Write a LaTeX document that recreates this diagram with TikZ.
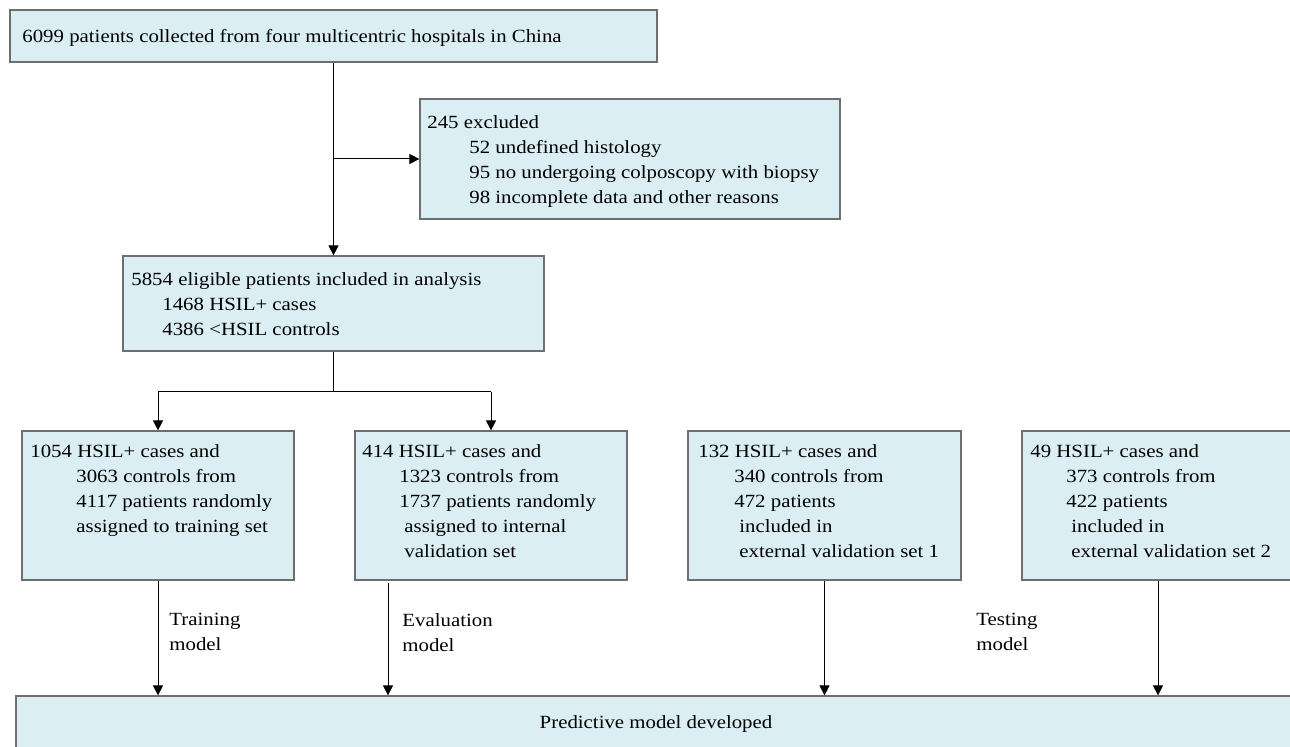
\documentclass[tikz,border=0pt]{standalone}
\usepackage{fontspec}
\setmainfont{Liberation Serif}[FakeStretch=1.12]
\usetikzlibrary{arrows.meta}
\definecolor{boxfill}{HTML}{DAEEF3}
\definecolor{boxline}{HTML}{6E6E6E}
\begin{document}
\begin{tikzpicture}[x=0.5pt,y=-0.5pt,
    box/.style={draw=boxline,fill=boxfill,line width=0.6pt,inner sep=0pt},
    txt/.style={anchor=north west,inner sep=0pt,align=left,font=\fontsize{9.3}{12.5}\selectfont},
    arr/.style={-{Triangle[length=5pt,width=5pt]},line width=0.5pt},
    ln/.style={line width=0.5pt}]
    \useasboundingbox (0,0) rectangle (1290,747);
    \clip (0,0) rectangle (1290,747);

    \node[box,minimum width=323.5pt,minimum height=26pt] (B0) at (333.5,36) {}; % all patients
    \node[box,minimum width=210pt,minimum height=60pt] (B1) at (630,159) {}; % excluded
    \node[box,minimum width=210.5pt,minimum height=47.5pt] (B2) at (333.5,303.5) {}; % eligible
    \node[box,minimum width=136pt,minimum height=74.5pt] (S1) at (158,505.5) {}; % training
    \node[box,minimum width=136pt,minimum height=74.5pt] (S2) at (491,505.5) {}; % internal
    \node[box,minimum width=136.5pt,minimum height=74.5pt] (S3) at (824.5,505.5) {}; % external 1
    \node[box,minimum width=136pt,minimum height=74.5pt] (S4) at (1158,505.5) {}; % external 2
    \node[box,minimum width=640pt,minimum height=27pt] (M) at (656,723) {}; % model

    \node[txt] (T0) at (22,29) {6099 patients collected from four multicentric hospitals in China};
    \node[txt] (T1) at (427,115) {245 excluded\\
        \hspace*{21pt}52 undefined histology\\
        \hspace*{21pt}95 no undergoing colposcopy with biopsy\\
        \hspace*{21pt}98 incomplete data and other reasons};
    \node[txt] (T2) at (131,272) {5854 eligible patients included in analysis\\
        \hspace*{15.5pt}1468 HSIL+ cases\\
        \hspace*{15.5pt}4386 <HSIL controls};
    \node[txt] (U1) at (30,444) {1054 HSIL+ cases and\\
        \hspace*{23pt}3063 controls from\\
        \hspace*{23pt}4117 patients randomly\\
        \hspace*{23pt}assigned to training set};
    \node[txt] (U2) at (362,444) {414 HSIL+ cases and\\
        \hspace*{18.5pt}1323 controls from\\
        \hspace*{18.5pt}1737 patients randomly\\
        \hspace*{21pt}assigned to internal\\
        \hspace*{21pt}validation set};
    \node[txt] (U3) at (698,444) {132 HSIL+ cases and\\
        \hspace*{18pt}340 controls from\\
        \hspace*{18pt}472 patients\\
        \hspace*{20.5pt}included in\\
        \hspace*{20.5pt}external validation set 1};
    \node[txt] (U4) at (1030,444) {49 HSIL+ cases and\\
        \hspace*{18pt}373 controls from\\
        \hspace*{18pt}422 patients\\
        \hspace*{20.5pt}included in\\
        \hspace*{20.5pt}external validation set 2};
    \node[txt,anchor=base] (TM) at (656,728) {Predictive model developed};

    \node[txt] (L1) at (169,613) {Training\\model};
    \node[txt] (L2) at (402,613) {Evaluation\\model};
    \node[txt] (L3) at (976,613) {Testing\\model};

    \coordinate (J1) at (333.5,159);
    \coordinate (J2) at (333.5,392);
    \coordinate (J3) at (158,392);
    \coordinate (J4) at (491,392);
    \coordinate (E2) at (388,583);

    \draw[arr] (B0) -- (B2);
    \draw[arr] (J1) -- (B1);
    \draw[ln] (B2) -- (J2);
    \draw[ln] (J3) -- (J4);
    \draw[arr] (J3) -- (S1);
    \draw[arr] (J4) -- (S2);
    \draw[arr] (S1) -- (S1 |- M.north);
    \draw[arr] (E2) -- (E2 |- M.north);
    \draw[arr] (S3) -- (S3 |- M.north);
    \draw[arr] (S4) -- (S4 |- M.north);
\end{tikzpicture}
\end{document}
